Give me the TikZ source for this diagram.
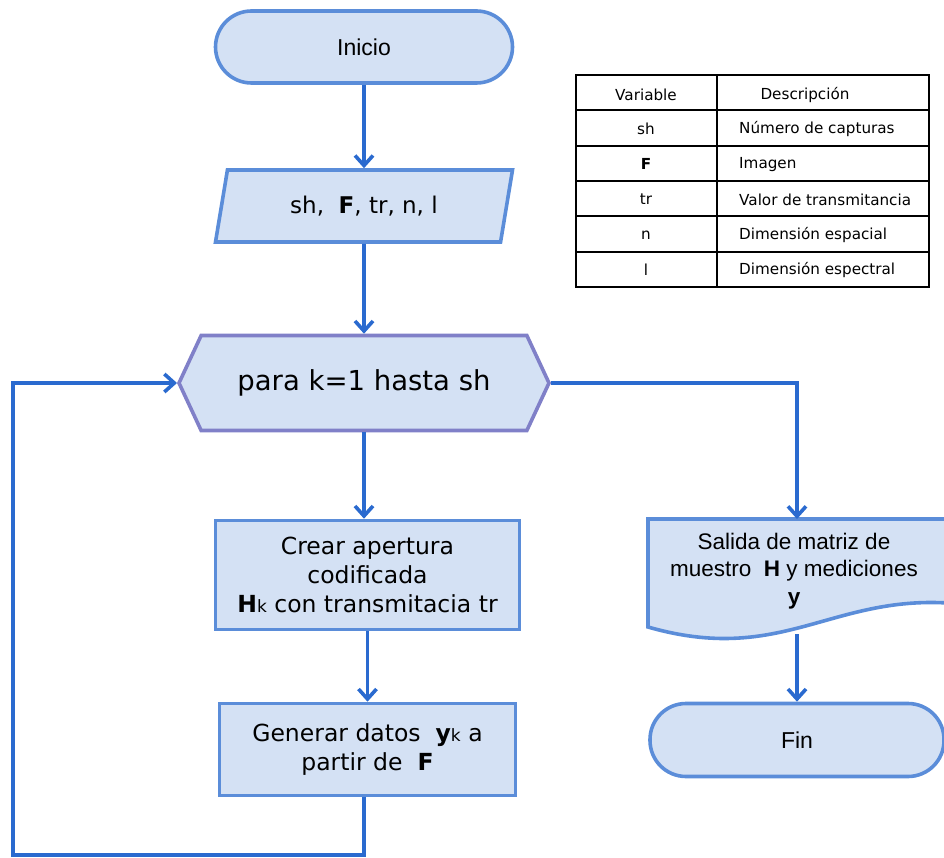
\documentclass[tikz,border=0pt]{standalone}
\usepackage{fontspec}
\setmainfont{DejaVu Sans}
\newfontfamily\arialfont{Liberation Sans}
\usetikzlibrary{arrows.meta, shapes.geometric, shapes.symbols}

\definecolor{boxfill}{HTML}{D4E1F4}
\definecolor{boxline}{HTML}{5B8DD9}
\definecolor{hexline}{HTML}{8080C8}
\definecolor{arrowblue}{HTML}{2A6ACF}
\newcommand{\subk}{{\fontsize{17}{17}\selectfont k}}

\begin{document}
\begin{tikzpicture}[x=1pt, y=-1pt,
  term/.style={draw=boxline, fill=boxfill, line width=3.6pt, rounded corners=36pt,
    minimum width=297pt, minimum height=72pt, font=\arialfont\fontsize{23}{27}\selectfont},
  inout/.style={trapezium, trapezium left angle=66, trapezium right angle=114,
    trapezium stretches body, draw=boxline, fill=boxfill, line width=3.6pt,
    minimum width=297pt, minimum height=72pt, font=\fontsize{23}{27}\selectfont},
  loopbox/.style={signal, signal to=west and east, signal pointer angle=130,
    draw=hexline, fill=boxfill, line width=3.6pt, minimum width=370pt, minimum height=95pt,
    font=\fontsize{27.5}{32}\selectfont},
  proc/.style={draw=boxline, fill=boxfill, line width=3.6pt, align=center,
    font=\fontsize{23.5}{29}\selectfont},
  docline/.style={draw=boxline, fill=boxfill, line width=3.6pt},
  arrow/.style={draw=arrowblue, line width=3.6pt, -{Straight Barb[length=10pt, width=18pt]}},
  cell/.style={font=\fontsize{15.2}{17}\selectfont, inner sep=0pt},
  tableline/.style={draw=black, line width=2pt},
]
  \useasboundingbox (0,0) rectangle (944,858);

  % flow nodes
  \node[term] (inicio) at (364,47) {Inicio};
  \node[inout] (datos) at (364,206) {sh, \ \textbf{F}, tr, n, l};
  \node[loopbox] (para) at (364,383) {para k=1 hasta sh};
  \node[proc, minimum width=304pt, minimum height=109pt] (crear) at (367.5,575)
    {Crear apertura\\codificada\\\textbf{H}\subk{} con transmitacia tr};
  \node[proc, minimum width=296pt, minimum height=92pt] (generar) at (367.5,749.5)
    {Generar datos \ \textbf{y}\subk{} a\\partir de \ \textbf{F}};

  % output document
  \draw[docline] (648,519) -- (948,519) -- (948,603)
    .. controls (830,596) and (780,665) .. (648,627) -- cycle;
  \node[align=center, font=\arialfont\fontsize{22.5}{27.5}\selectfont] (salida) at (794,571)
    {Salida de matriz de\\muestro \ \textbf{H} y mediciones\\\textbf{y}};
  \coordinate (salidatop) at (797,519);
  \coordinate (salidabot) at (797,634);
  \node[term, minimum width=294pt, minimum height=73pt] (fin) at (797,740) {Fin};

  % connectors
  \coordinate (loopcorner) at (13,855);
  \draw[arrow] (inicio) -- (datos);
  \draw[arrow] (datos) -- (para);
  \draw[arrow] (para.south) -- (para.south |- crear.north);
  \draw[arrow] (crear) -- (generar);
  \draw[arrow] ([xshift=-3.5pt]generar.south) |- (loopcorner) |- (para.west);
  \draw[arrow] (para.east) -| (salidatop);
  \draw[arrow] (salidabot) -- (fin);

  % variables table
  \draw[tableline] (576,75) rectangle (929,287);
  \draw[tableline] (717,75) -- (717,287);
  \foreach \y in {110,146,181,216,252}
    \draw[tableline] (576,\y) -- (929,\y);
  \node[cell] (varhead) at (646,95) {Variable};
  \node[cell] (deschead) at (805,95) {Descripción};
  \foreach \v/\d [count=\i] in {sh/Número de capturas, \textbf{F}/Imagen,
      tr/Valor de transmitancia, n/Dimensión espacial, l/Dimensión espectral}
  {
    \node[cell] (var\i) at (646,{94+35.2*\i}) {\v};
    \node[cell, anchor=west] (desc\i) at (739,{94+35.2*\i}) {\d};
  }
\end{tikzpicture}
\end{document}
